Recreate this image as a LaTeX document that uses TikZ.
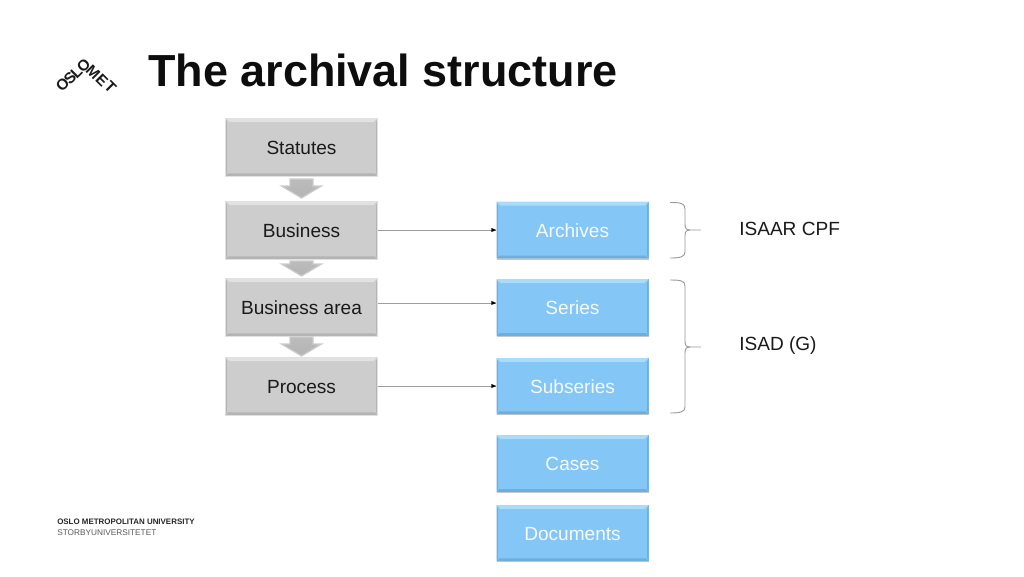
\documentclass[tikz,border=0pt]{standalone}
\usepackage{fontspec}
\setmainfont{Liberation Sans}
\usetikzlibrary{calc}
\definecolor{bluebox}{HTML}{84C6F5}
\definecolor{bluetop}{HTML}{A9DCFA}
\definecolor{bluelow}{HTML}{6FAEDB}
\definecolor{grayface}{HTML}{CDCDCD}
\definecolor{graytop}{HTML}{E2E2E2}
\definecolor{graylow}{HTML}{B4B4B4}
\definecolor{txt}{HTML}{1A1A1A}
\newcommand{\blockarr}[4]{% name, centre x, top y, bottom y
  \pgfmathsetmacro{\hs}{#4-7}
  \draw[blockarrow] (#2-11.5,#3) -- (#2+11.5,#3) -- (#2+11.5,\hs-5) -- (#2+20,\hs-5)
     -- (#2,#4) -- (#2-20,\hs-5) -- (#2-11.5,\hs-5) -- cycle;
  \coordinate (#1) at (#2,#3);
}
\tikzset{
  x=0.75pt,y=-0.75pt,
  lbl/.style={font=\fontsize{14.3}{18}\selectfont},
  bevelled/.style n args={3}{rectangle,inner sep=0pt,minimum width=114pt,
    text height=11.2pt,text depth=0pt,
    fill=#1,
    preaction={fill=black!22,transform canvas={yshift=-1pt}},
    path picture={
      \fill[#2] (path picture bounding box.north west) -- (path picture bounding box.north east)
        -- ([xshift=-3pt,yshift=-3pt]path picture bounding box.north east)
        -- ([xshift=3pt,yshift=-3pt]path picture bounding box.north west) -- cycle;
      \fill[#3] (path picture bounding box.south west) -- (path picture bounding box.south east)
        -- ([xshift=-2pt,yshift=2pt]path picture bounding box.south east)
        -- ([xshift=2pt,yshift=2pt]path picture bounding box.south west) -- cycle;
      \fill[#3] (path picture bounding box.south west) -- (path picture bounding box.north west)
        -- ([xshift=1pt,yshift=-3pt]path picture bounding box.north west)
        -- ([xshift=1pt,yshift=2pt]path picture bounding box.south west) -- cycle;
      \fill[#3] (path picture bounding box.south east) -- (path picture bounding box.north east)
        -- ([xshift=-1pt,yshift=-3pt]path picture bounding box.north east)
        -- ([xshift=-1pt,yshift=2pt]path picture bounding box.south east) -- cycle;
    }},
  graybox/.style={bevelled={grayface}{graytop}{graylow},draw=black!12,line width=0.7pt,text=txt,lbl},
  bluenode/.style={bevelled={bluebox}{bluetop}{bluelow},text=white!92!bluebox,lbl},
  blockarrow/.style={draw=black!20,line width=0.9pt,line join=miter,
    top color=graylow!70!grayface,bottom color=graylow},
  link/.style={draw=black!38,line width=0.5pt},
  tipend/.style={fill=black,draw=none},
  bracecurve/.style={draw=black!40,line width=0.7pt,line join=round},
  logo/.style={font=\fontsize{11.5}{12}\selectfont\bfseries,text=black!90,inner sep=0pt},
}
\begin{document}
\begin{tikzpicture}
\useasboundingbox (0,0) rectangle (1024,576);
% title
\node[anchor=base west,inner sep=0pt,font=\fontsize{33.7}{40}\selectfont\bfseries,text=black!95] (title) at (148,86) {The archival structure};
% logo
\node[logo,rotate=45] (l1) at (62.5,85) {O};
\node[logo,rotate=45] (l2) at (70,78.5) {S};
\node[logo,rotate=45] (l3) at (76.5,72.5) {L};
\node[logo,rotate=45] (l4) at (83.5,66) {O};
\node[logo,rotate=-45] (l5) at (93,72) {M};
\node[logo,rotate=-45] (l6) at (102,80.5) {E};
\node[logo,rotate=-45] (l7) at (110.5,87.5) {T};
% footer
\node[anchor=base west,inner sep=0pt,font=\fontsize{5.95}{8}\selectfont\bfseries,text=black!85] (f1) at (57,524) {OSLO METROPOLITAN UNIVERSITY};
\node[anchor=base west,inner sep=0pt,font=\fontsize{6.2}{8}\selectfont,text=black!65] (f2) at (57,535) {STORBYUNIVERSITETET};
% left column
\node[graybox,minimum height=43.5pt] (statutes) at (301.5,147) {Statutes};
\node[graybox,minimum height=43.5pt] (business) at (301.5,230) {Business};
\node[graybox,minimum height=43.5pt] (area) at (301.5,307) {Business area};
\node[graybox,minimum height=43.5pt] (process) at (301.5,386) {Process};
% block arrows
\blockarr{a1}{301.5}{179}{198}
\blockarr{a2}{301.5}{261}{276}
\blockarr{a3}{301.5}{337}{356}
% right column
\node[bluenode,minimum height=42.5pt] (archives) at (572.5,230) {Archives};
\node[bluenode,minimum height=42.5pt] (series) at (572.5,307.5) {Series};
\node[bluenode,minimum height=42pt] (subseries) at (572.5,386) {Subseries};
\node[bluenode,minimum height=42.5pt] (cases) at (572.5,463.5) {Cases};
\node[bluenode,minimum height=42pt] (documents) at (572.5,533) {Documents};
% connectors
\draw[link] (business.east) -- (archives.west);
\draw[link] ([yshift=3pt]area.east) -- ([yshift=3pt]area.east -| series.west);
\draw[link] (process.east) -- (subseries.west);
\foreach \n/\s in {archives/0pt,series/3.4pt,subseries/0pt}{
  \fill[tipend] ([yshift=\s]\n.west) -- ++(-3.6pt,1.5pt) -- ++(0,-3pt) -- cycle;
}
% braces
\draw[bracecurve] (670,202.5) .. controls (680,202.5) and (685,203) .. (685,209) -- (685,224)
  .. controls (685,228) and (686,230) .. (690,230) -- (701,230);
\draw[bracecurve] (690,230) .. controls (686,230) and (685,232) .. (685,236) -- (685,252)
  .. controls (685,257) and (680,258) .. (670,258);
\draw[bracecurve] (670,280) .. controls (680,280) and (685,280.5) .. (685,286) -- (685,341)
  .. controls (685,345) and (686,347) .. (690,347) -- (701,347);
\draw[bracecurve] (690,347) .. controls (686,347) and (685,349) .. (685,353) -- (685,407)
  .. controls (685,412) and (680,413) .. (670,413);
\node[lbl,anchor=base west,inner sep=0pt,text=txt] (isaar) at (739,235) {ISAAR CPF};
\node[lbl,anchor=base west,inner sep=0pt,text=txt] (isad) at (739,350.5) {ISAD (G)};
\end{tikzpicture}
\end{document}
